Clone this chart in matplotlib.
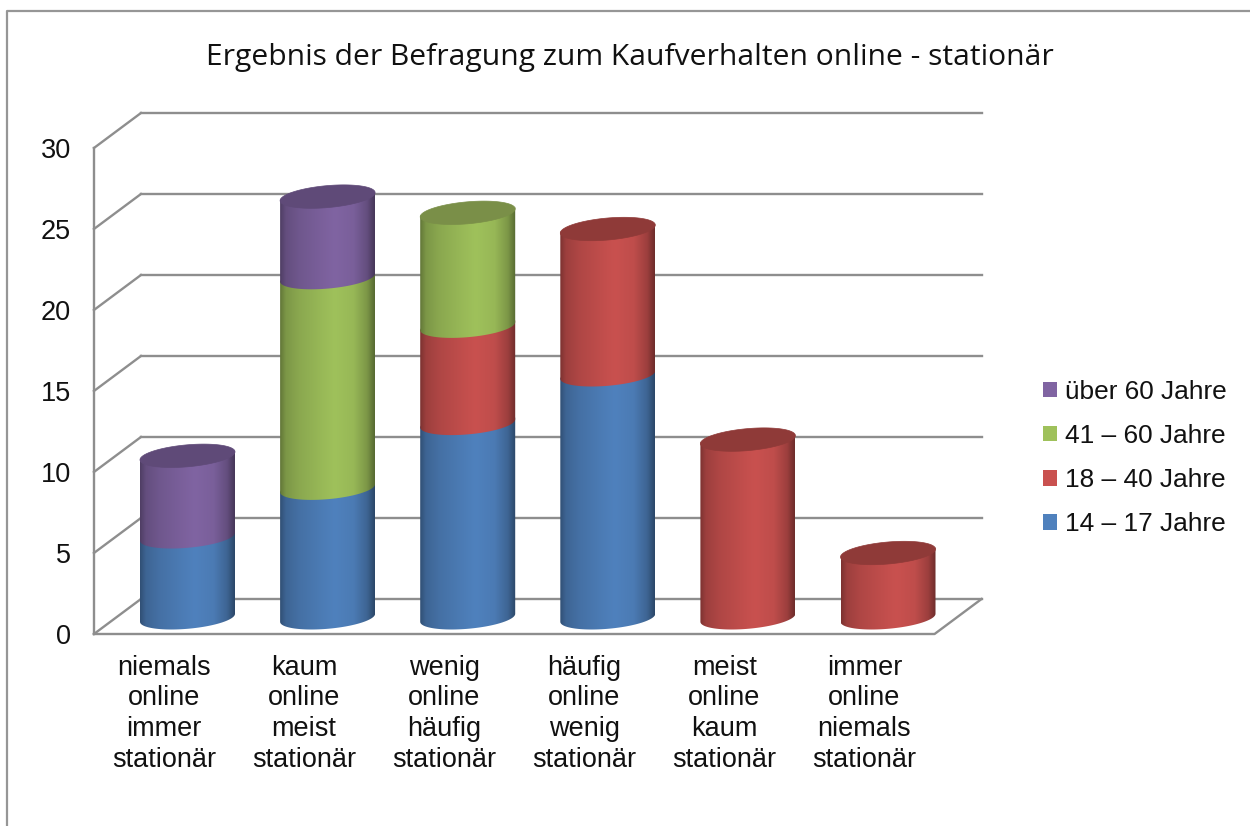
import numpy as np
import matplotlib
matplotlib.use("Agg")
import matplotlib.pyplot as plt
from matplotlib.patches import Patch, Polygon
from matplotlib.lines import Line2D

plt.rcParams.update({
    "font.family": "Liberation Sans",
    "font.size": 19.5,
})

# ── Data ──────────────────────────────────────────────────────────────────────
categories = [
    "niemals\nonline\nimmer\nstationär",
    "kaum\nonline\nmeist\nstationär",
    "wenig\nonline\nhäufig\nstationär",
    "häufig\nonline\nwenig\nstationär",
    "meist\nonline\nkaum\nstationär",
    "immer\nonline\nniemals\nstationär",
]
age_14_17 = [5, 8, 12, 15, 0, 0]
age_18_40 = [0, 0, 6, 9, 11, 4]
age_41_60 = [0, 13, 7, 0, 0, 0]
age_60_up = [5, 5, 0, 0, 0, 0]
y_ticks = [0, 5, 10, 15, 20, 25, 30]

SERIES = [
    (age_14_17, "14 – 17 Jahre", "#4F81BD", "#37597F"),
    (age_18_40, "18 – 40 Jahre", "#C9514F", "#8F3A38"),
    (age_41_60, "41 – 60 Jahre", "#9FC15B", "#7A8F48"),
    (age_60_up, "über 60 Jahre", "#8064A2", "#5F4A78"),
]

# ── Geometry of the fake 3D box ───────────────────────────────────────────────
W, H = 1250, 826
PX_X = 140.1   # pixels per category
PX_Y = 16.2    # pixels per value unit
DEPTH_X = 47 / PX_X
DEPTH_Y = 35 / PX_Y
HALF_W = 47.5 / PX_X
ELL_B = 11.0 / PX_Y
ELL_K = 4.0 / PX_Y
BASE = 1.0
GRID = "#8E8E8E"

fig = plt.figure(figsize=(W / 100, H / 100), dpi=100)
ax = fig.add_axes([0, 0, 1, 1])
ax.axis("off")


def rim(cx, v, t):
    return cx + HALF_W * np.cos(t), BASE + v + ELL_B * np.sin(t) + ELL_K * np.cos(t)


# ── Walls ─────────────────────────────────────────────────────────────────────
x0 = -0.5 - DEPTH_X / 2
x1 = 5.5 - DEPTH_X / 2
for v in y_ticks:
    ax.plot([x0 + DEPTH_X, x1 + DEPTH_X], [v + DEPTH_Y, v + DEPTH_Y], color=GRID, lw=1.7, zorder=1)
    ax.plot([x0, x0 + DEPTH_X], [v, v + DEPTH_Y], color=GRID, lw=1.7, zorder=1)
    ax.text(x0 - 0.165, v - 0.2, str(v), ha="right", va="center", color="#111111")
ax.plot([x0, x0], [0, 30], color=GRID, lw=1.7, zorder=1)
ax.plot([x0, x1, x1 + DEPTH_X], [0, 0, DEPTH_Y], color=GRID, lw=1.7, zorder=1)

for i, label in enumerate(categories):
    ax.text(i - DEPTH_X / 2, -1.27, label, ha="center", va="top", linespacing=1.24, color="#111111")

# ── Cylinders ─────────────────────────────────────────────────────────────────
shade_pos = np.linspace(0, 1, 128)
shade = np.interp(shade_pos, [0, 0.06, 0.2, 0.45, 0.58, 0.78, 0.92, 1],
                  [0.62, 0.78, 0.87, 0.96, 1.0, 0.95, 0.78, 0.55])

for i in range(len(categories)):
    bottom = 0
    top_colour = None
    for values, _, colour, dark in SERIES:
        v = values[i]
        if v == 0:
            continue
        front = np.linspace(np.pi, 2 * np.pi, 60)
        xa, ya = rim(i, bottom, front)
        # run a little past the seam, the next piece or the lid covers it
        xb, yb = rim(i, bottom + v + 0.15, front[::-1])
        verts = np.column_stack([np.r_[xa, xb], np.r_[ya, yb]])
        patch = Polygon(verts, closed=True, fc="none", ec="none", transform=ax.transData)
        ax.add_patch(patch)
        rgb = np.array(matplotlib.colors.to_rgb(colour))
        img = (shade[:, None] * rgb)[None, :, :]
        im = ax.imshow(img, extent=[i - HALF_W, i + HALF_W, BASE + bottom - 2, BASE + bottom + v + 2],
                       aspect="auto", interpolation="bilinear", zorder=3)
        im.set_clip_path(patch)
        bottom += v
        top_colour = dark
    t = np.linspace(0, 2 * np.pi, 120)
    xt, yt = rim(i, bottom, t)
    ax.fill(xt, yt, color=top_colour, lw=0.5, zorder=4)

ax.set_xlim(-187.5 / PX_X, (W - 187.5) / PX_X)
ax.set_ylim((634 - H) / PX_Y, 634 / PX_Y)

# ── Title, legend, frame ──────────────────────────────────────────────────────
fig.text(630 / W, 1 - 57 / H, "Ergebnis der Befragung zum Kaufverhalten online - stationär",
         ha="center", va="center", family="Open Sans", fontsize=21.6, color="#111111")

handles = [Patch(fc=s[2], ec="none", label=s[1]) for s in SERIES[::-1]]
ax.legend(handles=handles, loc="center left", bbox_to_anchor=(1043 / W, 1 - 458 / H), frameon=False,
          fontsize=18.9, handlelength=0.54, handleheight=0.54, handletextpad=0.28,
          labelspacing=0.77, borderpad=0, borderaxespad=0, labelcolor="#111111")

fig.add_artist(Line2D([7 / W, 7 / W, 1], [0, 1 - 11 / H, 1 - 11 / H], color="#969696", lw=1.6))

fig.savefig("out.png", dpi=100)
